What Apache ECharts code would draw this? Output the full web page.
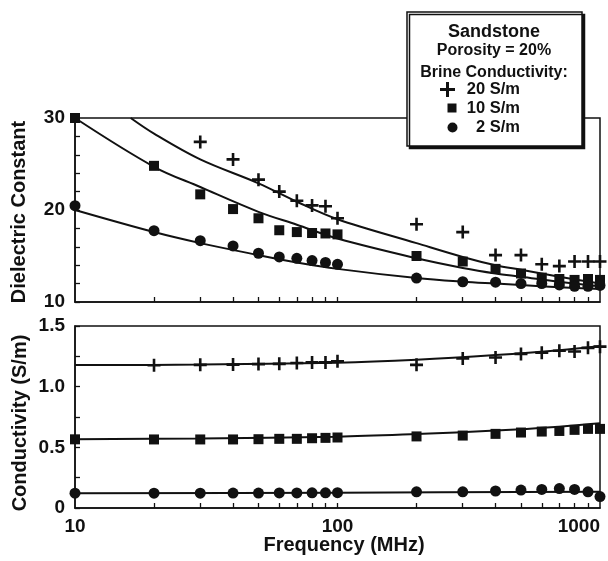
<!DOCTYPE html>
<html>
<head>
<meta charset="utf-8">
<script src="https://cdn.jsdelivr.net/npm/echarts@6/dist/echarts.min.js"></script>
<style>
  html, body { margin: 0; padding: 0; background: #fff; }
  #chart { width: 608px; height: 561px; }
</style>
</head>
<body>
<div id="chart"></div>
<script>
// Measured frequencies (MHz)
const freqs = [10, 20, 30, 40, 50, 60, 70, 80, 90, 100, 200, 300, 400, 500, 600, 700, 800, 900, 1000]

// Dielectric constant, one array per brine conductivity
const dielCross = [null, null, 27.4, 25.5, 23.3, 22.0, 21.0, 20.5, 20.4, 19.1, 18.45, 17.6, 15.1, 15.1, 14.1, 13.9, 14.4, 14.4, 14.4]
const dielSquare = [30, 24.8, 21.7, 20.1, 19.1, 17.8, 17.6, 17.5, 17.45, 17.35, 15.0, 14.4, 13.6, 13.1, 12.65, 12.5, 12.4, 12.5, 12.4]
const dielCircle = [20.47, 17.75, 16.67, 16.1, 15.3, 14.9, 14.75, 14.5, 14.3, 14.1, 12.6, 12.2, 12.15, 12.0, 12.0, 11.85, 11.7, 11.7, 11.8]

// Conductivity (S/m)
const condCross = [null, 1.176, 1.18, 1.182, 1.186, 1.188, 1.195, 1.2, 1.2, 1.21, 1.18, 1.233, 1.24, 1.27, 1.28, 1.296, 1.29, 1.32, 1.33]
const condSquare = [0.566, 0.565, 0.565, 0.565, 0.567, 0.57, 0.57, 0.575, 0.578, 0.581, 0.59, 0.597, 0.611, 0.622, 0.63, 0.635, 0.644, 0.652, 0.652]
const condCircle = [0.122, 0.122, 0.122, 0.123, 0.123, 0.124, 0.124, 0.125, 0.125, 0.126, 0.133, 0.133, 0.14, 0.148, 0.153, 0.16, 0.153, 0.133, 0.094]

// Model curves
const fitDiel20Freq = [16.3, 20, 30, 50, 70, 100, 200, 300, 400, 500, 700, 1000]
const fitDiel20 = [30, 28.3, 25.5, 22.9, 20.9, 19.0, 16.4, 14.9, 14.0, 13.5, 12.75, 12.0]
const fitDielFreq = [10, 20, 30, 50, 70, 100, 200, 300, 400, 500, 700, 1000]
const fitDiel10 = [30, 24.7, 22.5, 19.8, 18.4, 16.9, 14.75, 13.7, 13.1, 12.75, 12.2, 11.7]
const fitDiel2 = [20.0, 17.6, 16.4, 15.1, 14.3, 13.6, 12.6, 12.2, 12.0, 11.85, 11.6, 11.4]

const fitCondFreq = [10, 30, 100, 200, 400, 700, 1000]
const fitCond20 = [1.178, 1.182, 1.198, 1.222, 1.26, 1.3, 1.335]
const fitCond10 = [0.566, 0.573, 0.588, 0.61, 0.638, 0.67, 0.698]
const fitCond2Freq = [10, 100, 1000]
const fitCond2 = [0.122, 0.126, 0.134]

const xTickValues = [20, 30, 40, 50, 60, 70, 80, 90, 100, 200, 300, 400, 500, 600, 700, 800, 900]
const xLabelValues = [10, 100, 1000]

const INK = '#111'
const FONT = '"Liberation Sans", Arial, Helvetica, sans-serif'
const CROSS = 'path://M4,0H6V4H10V6H6V10H4V6H0V4H4Z'

function pairs(xs, ys) {
  const out = []
  xs.forEach((x, i) => { if (ys[i] != null) out.push([x, ys[i]]) })
  return out
}

function xAxisFor(gridIndex, showLabels) {
  return {
    type: 'log', logBase: 10, min: 10, max: 1000, gridIndex,
    axisLine: { show: true, lineStyle: { color: INK, width: 1.5 } },
    axisTick: { show: true, inside: true, length: 5, lineStyle: { color: INK, width: 1.3 }, customValues: xTickValues },
    axisLabel: {
      show: showLabels, customValues: xLabelValues, margin: 9, alignMaxLabel: 'right',
      color: INK, fontFamily: FONT, fontWeight: 'bold', fontSize: 19,
      formatter: v => String(Math.round(v)),
    },
    splitLine: { show: false },
  }
}

function scatter(name, symbol, size, xi, yi, data) {
  return {
    name, type: 'scatter', xAxisIndex: xi, yAxisIndex: yi, symbol, symbolSize: size,
    itemStyle: { color: INK, opacity: 1 }, data, z: 3, clip: false,
  }
}

function curve(xi, yi, data) {
  return {
    type: 'line', xAxisIndex: xi, yAxisIndex: yi, data, smooth: 0.35, showSymbol: false,
    lineStyle: { color: INK, width: 2 }, z: 2,
  }
}

const chart = echarts.init(document.getElementById('chart'))

const titleStyle = { fill: INK, font: 'bold 20px ' + FONT, align: 'center', verticalAlign: 'middle' }
const legendText = (text, x, y, size, align) => ({
  type: 'text', x, y, z: 101,
  style: { text, fill: INK, font: 'bold ' + size + 'px ' + FONT, align: align || 'center', verticalAlign: 'middle' },
})

chart.setOption({
  animation: false,
  backgroundColor: '#fff',
  grid: [
    { left: 75, right: 8, top: 118, height: 184, show: true, borderColor: INK, borderWidth: 1.5 },
    { left: 75, right: 8, top: 326, height: 182, show: true, borderColor: INK, borderWidth: 1.5 },
  ],
  xAxis: [xAxisFor(0, false), xAxisFor(1, true)],
  yAxis: [
    {
      type: 'value', gridIndex: 0, min: 10, max: 30, interval: 2,
      axisLine: { show: true, lineStyle: { color: INK, width: 1.5 } },
      axisTick: { show: true, inside: true, length: 5, lineStyle: { color: INK, width: 1.3 } },
      axisLabel: {
        margin: 10, color: INK, fontFamily: FONT, fontWeight: 'bold', fontSize: 19,
        formatter: v => (v % 10 === 0 ? String(v) : ''),
      },
      splitLine: { show: false },
    },
    {
      type: 'value', gridIndex: 1, min: 0, max: 1.5, interval: 0.25,
      axisLine: { show: true, lineStyle: { color: INK, width: 1.5 } },
      axisTick: { show: true, inside: true, length: 5, lineStyle: { color: INK, width: 1.3 } },
      axisLabel: {
        margin: 10, color: INK, fontFamily: FONT, fontWeight: 'bold', fontSize: 19,
        formatter: v => {
          const r = Math.round(v * 100) / 100
          if (r === 0) return '0'
          return (Math.round(r * 2) === r * 2) ? r.toFixed(1) : ''
        },
      },
      splitLine: { show: false },
    },
  ],
  series: [
    curve(0, 0, pairs(fitDiel20Freq, fitDiel20)),
    curve(0, 0, pairs(fitDielFreq, fitDiel10)),
    curve(0, 0, pairs(fitDielFreq, fitDiel2)),
    scatter('20 S/m', CROSS, 13, 0, 0, pairs(freqs, dielCross)),
    scatter('10 S/m', 'rect', 10, 0, 0, pairs(freqs, dielSquare)),
    scatter('2 S/m', 'circle', 11, 0, 0, pairs(freqs, dielCircle)),
    curve(1, 1, pairs(fitCondFreq, fitCond20)),
    curve(1, 1, pairs(fitCondFreq, fitCond10)),
    curve(1, 1, pairs(fitCond2Freq, fitCond2)),
    scatter('20 S/m', CROSS, 13, 1, 1, pairs(freqs, condCross)),
    scatter('10 S/m', 'rect', 10, 1, 1, pairs(freqs, condSquare)),
    scatter('2 S/m', 'circle', 11, 1, 1, pairs(freqs, condCircle)),
  ],
  graphic: [
    { type: 'text', x: 19, y: 212, rotation: Math.PI / 2, style: { ...titleStyle, text: 'Dielectric Constant' } },
    { type: 'text', x: 20, y: 423, rotation: Math.PI / 2, style: { ...titleStyle, text: 'Conductivity (S/m)' } },
    { type: 'text', x: 344, y: 545, style: { ...titleStyle, text: 'Frequency (MHz)' } },
    {
      type: 'rect', z: 100,
      shape: { x: 407, y: 12, width: 175, height: 134 },
      style: { fill: '#fff', stroke: INK, lineWidth: 1.5, shadowColor: INK, shadowOffsetX: 2.5, shadowOffsetY: 2.5, shadowBlur: 0 },
    },
    legendText('Sandstone', 494, 32, 18),
    legendText('Porosity = 20%', 494, 51, 16),
    legendText('Brine Conductivity:', 494, 73, 16),
    { type: 'rect', z: 101, shape: { x: 440, y: 88, width: 15, height: 3 }, style: { fill: INK } },
    { type: 'rect', z: 101, shape: { x: 446, y: 82, width: 3, height: 15 }, style: { fill: INK } },
    { type: 'rect', z: 101, shape: { x: 447.5, y: 103.5, width: 9, height: 9 }, style: { fill: INK } },
    { type: 'circle', z: 101, shape: { cx: 452.5, cy: 127.5, r: 5 }, style: { fill: INK } },
    legendText('20 S/m', 520, 89.5, 16.5, 'right'),
    legendText('10 S/m', 520, 108, 16.5, 'right'),
    legendText('2 S/m', 520, 127.5, 16.5, 'right'),
  ],
})
</script>
</body>
</html>
